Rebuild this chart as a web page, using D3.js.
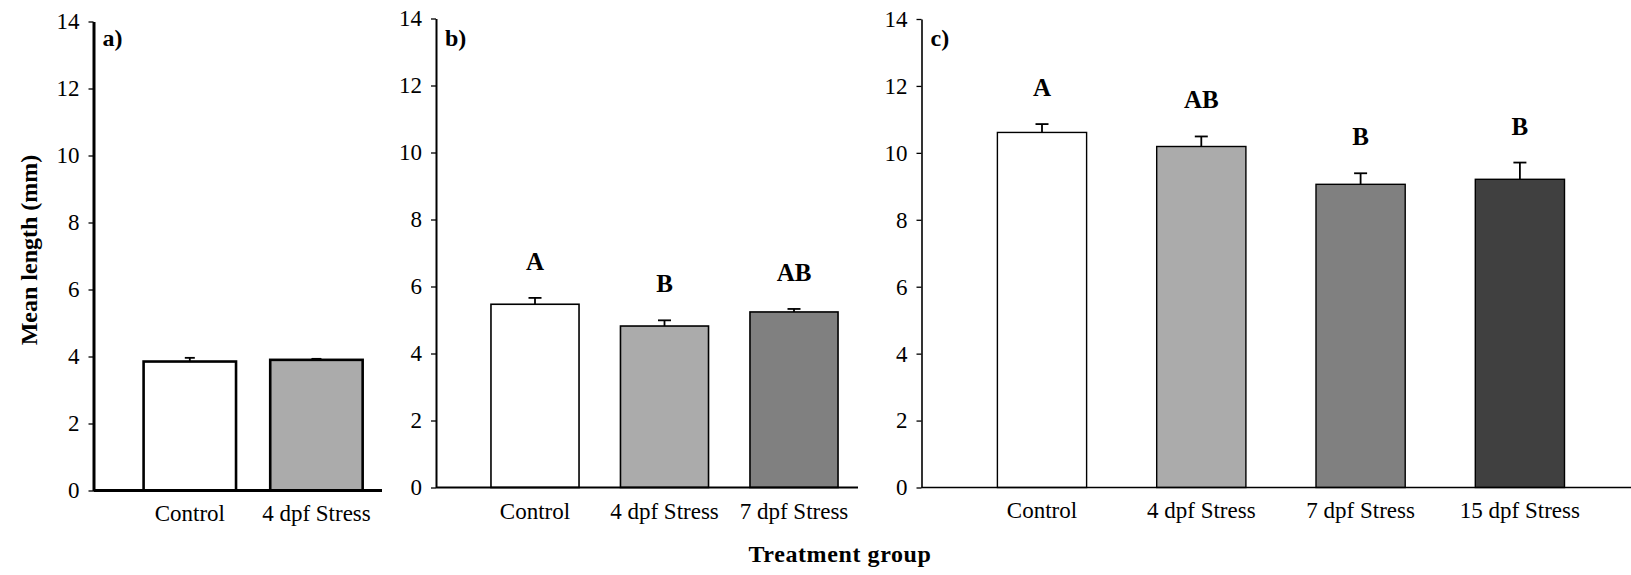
<!DOCTYPE html>
<html>
<head>
<meta charset="utf-8">
<script src="https://cdn.jsdelivr.net/npm/d3@7"></script>
<style>
  body { margin: 0; background: #fff; }
  text { font-family: "Liberation Serif", "Times New Roman", serif; fill: #000; }
</style>
</head>
<body>
<svg id="drawing_region"></svg>
<script>
// values
const y_ticks = [0, 2, 4, 6, 8, 10, 12, 14];

const groups_a = ['Control', '4 dpf Stress'];
const means_a  = [3.85, 3.90];
const errors_a = [0.11, 0.03];
const letters_a = ['', ''];

const groups_b = ['Control', '4 dpf Stress', '7 dpf Stress'];
const means_b  = [5.47, 4.82, 5.24];
const errors_b = [0.19, 0.17, 0.09];
const letters_b = ['A', 'B', 'AB'];

const groups_c = ['Control', '4 dpf Stress', '7 dpf Stress', '15 dpf Stress'];
const means_c  = [10.61, 10.19, 9.06, 9.21];
const errors_c = [0.25, 0.30, 0.33, 0.50];
const letters_c = ['A', 'AB', 'B', 'B'];

const fills = ['#ffffff', '#ababab', '#808080', '#404040'];

const svg = d3.select('#drawing_region')
    .attr('width', 1631)
    .attr('height', 575);

class BarPanel {
    constructor (config, groups, means, errors, letters) {
        this.config = config;
        this.data = groups.map((g, i) => ({group: g, mean: means[i], err: errors[i], letter: letters[i], fill: fills[i]}));
        this.init();
        this.render();
    }

    init() {
        let self = this;
        const c = self.config;

        self.chart = svg.append('g');

        self.x = d3.scaleBand()
            .domain(self.data.map(d => d.group))
            .range(c.band_range)
            .paddingInner(c.padding)
            .paddingOuter(c.padding / 2);

        self.y = d3.scaleLinear()
            .domain([0, 14])
            .range([c.y0, c.y14]);
    }

    render() {
        let self = this;
        const c = self.config;

        // bars
        self.chart.selectAll('rect.bar')
            .data(self.data)
            .enter()
            .append('rect')
            .attr('class', 'bar')
            .attr('x', d => self.x(d.group))
            .attr('width', self.x.bandwidth())
            .attr('y', d => self.y(d.mean))
            .attr('height', d => self.y(0) - self.y(d.mean))
            .attr('fill', d => d.fill)
            .attr('stroke', '#000')
            .attr('stroke-width', c.bar_stroke);

        // upper error bars
        const cx = d => self.x(d.group) + self.x.bandwidth() / 2;
        self.chart.selectAll('line.err')
            .data(self.data)
            .enter()
            .append('line')
            .attr('x1', cx).attr('x2', cx)
            .attr('y1', d => self.y(d.mean))
            .attr('y2', d => self.y(d.mean + d.err))
            .attr('stroke', '#000')
            .attr('stroke-width', 1.8);

        self.chart.selectAll('line.cap')
            .data(self.data)
            .enter()
            .append('line')
            .attr('x1', d => cx(d) - c.cap / 2)
            .attr('x2', d => cx(d) + c.cap / 2)
            .attr('y1', d => self.y(d.mean + d.err))
            .attr('y2', d => self.y(d.mean + d.err))
            .attr('stroke', '#000')
            .attr('stroke-width', 1.8);

        // significance letters
        self.chart.selectAll('text.letter')
            .data(self.data)
            .enter()
            .append('text')
            .attr('x', cx)
            .attr('y', d => self.y(d.mean + d.err) - 28)
            .attr('text-anchor', 'middle')
            .style('font-size', '25px')
            .style('font-weight', 'bold')
            .text(d => d.letter);

        // y axis
        const y_axis = d3.axisLeft(self.y)
            .tickValues(y_ticks)
            .tickSize(5)
            .tickPadding(9)
            .tickSizeOuter(0);

        const ya = self.chart.append('g')
            .attr('transform', `translate(${c.left},0)`)
            .call(y_axis);
        ya.select('.domain').attr('stroke', '#000').attr('stroke-width', c.axis_stroke);
        ya.selectAll('.tick line').attr('stroke', '#000').attr('stroke-width', 1.3);
        ya.selectAll('.tick text')
            .style('font-size', '23px')
            .style('font-family', '"Liberation Serif", serif');

        // x axis (labels only, no ticks)
        const x_axis = d3.axisBottom(self.x)
            .tickSize(0)
            .tickPadding(c.label_pad);

        const xa = self.chart.append('g')
            .attr('transform', `translate(0,${c.y0})`)
            .call(x_axis);
        xa.select('.domain').remove();
        xa.selectAll('.tick text')
            .style('font-size', '23px')
            .style('font-family', '"Liberation Serif", serif');

        self.chart.append('line')
            .attr('x1', c.left)
            .attr('x2', c.right)
            .attr('y1', c.y0)
            .attr('y2', c.y0)
            .attr('stroke', '#000')
            .attr('stroke-width', c.axis_stroke);

        // panel tag
        self.chart.append('text')
            .attr('x', c.left + 9)
            .attr('y', 46)
            .style('font-size', '24px')
            .style('font-weight', 'bold')
            .text(c.tag);
    }
}

new BarPanel({
    tag: 'a)', left: 93.5, right: 382, y0: 490.5, y14: 21.5,
    band_range: [126.5, 379.75], padding: 0.27,
    bar_stroke: 2.6, axis_stroke: 3, cap: 10, label_pad: 14
}, groups_a, means_a, errors_a, letters_a);

new BarPanel({
    tag: 'b)', left: 436, right: 858, y0: 487.5, y14: 18.5,
    band_range: [470.25, 858.75], padding: 0.32,
    bar_stroke: 1.6, axis_stroke: 2, cap: 13, label_pad: 15
}, groups_b, means_b, errors_b, letters_b);

new BarPanel({
    tag: 'c)', left: 921.5, right: 1631, y0: 487.5, y14: 19,
    band_range: [962.35, 1599.55], padding: 0.44,
    bar_stroke: 1.4, axis_stroke: 1.6, cap: 13, label_pad: 14
}, groups_c, means_c, errors_c, letters_c);

// shared axis titles
svg.append('text')
    .attr('transform', 'translate(37,250) rotate(-90)')
    .attr('text-anchor', 'middle')
    .style('font-size', '24px')
    .style('font-weight', 'bold')
    .text('Mean length (mm)');

svg.append('text')
    .attr('x', 840)
    .attr('y', 562)
    .attr('text-anchor', 'middle')
    .style('font-size', '24px')
    .style('font-weight', 'bold')
    .style('letter-spacing', '0.6px')
    .text('Treatment group');
</script>
</body>
</html>
